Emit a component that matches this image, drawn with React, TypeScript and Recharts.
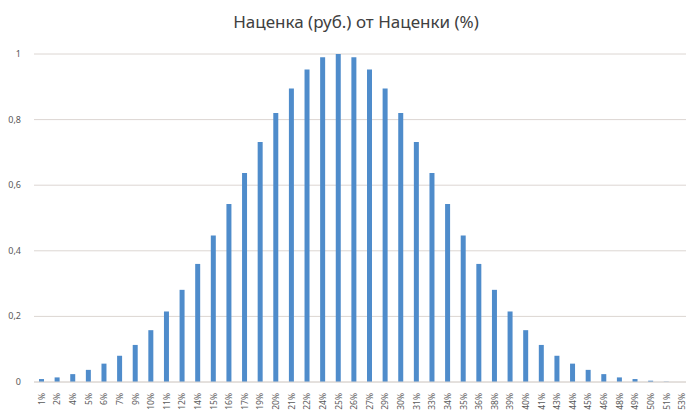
import { BarChart, Bar, XAxis, YAxis, CartesianGrid } from "recharts";

const markupLabels = [
  "1%", "2%", "4%", "5%", "6%", "7%", "9%", "10%", "11%", "12%", "14%",
  "15%", "16%", "17%", "19%", "20%", "21%", "22%", "24%", "25%", "26%",
  "27%", "29%", "30%", "31%", "33%", "34%", "35%", "36%", "38%", "39%",
  "40%", "41%", "43%", "44%", "45%", "46%", "48%", "49%", "50%", "51%", "53%",
];

const markupRub = [
  0.009, 0.014, 0.024, 0.037, 0.056, 0.08, 0.113, 0.158, 0.215, 0.281, 0.36,
  0.447, 0.543, 0.637, 0.732, 0.82, 0.895, 0.953, 0.99, 1.0, 0.99,
  0.953, 0.895, 0.82, 0.732, 0.637, 0.543, 0.447, 0.36, 0.281, 0.215,
  0.158, 0.113, 0.08, 0.056, 0.037, 0.024, 0.014, 0.009, 0.004, 0.001, 0,
];

const yTicks = [0, 0.2, 0.4, 0.6, 0.8, 1];

const data = markupLabels.map((label, i) => ({ label, value: markupRub[i] }));

const FONT = "'Noto Sans', 'Open Sans', sans-serif";
const GRID = "#DCD6D2";

function XTick(props: any) {
  const { x, y, payload } = props;
  return (
    <text
      x={0}
      y={0}
      transform={`translate(${x + 3},${y + 3}) rotate(-90)`}
      textAnchor="end"
      fontSize={8.5}
      fontFamily={FONT}
      fill="#595959"
    >
      {payload.value}
    </text>
  );
}

function YTick(props: any) {
  const { y, payload } = props;
  return (
    <text
      x={21}
      y={y + 3}
      textAnchor="end"
      fontSize={9}
      fontFamily={FONT}
      fill="#595959"
    >
      {String(payload.value).replace(".", ",")}
    </text>
  );
}

export default function App() {
  return (
    <div
      style={{
        position: "absolute",
        left: 0,
        top: 0,
        width: 686,
        height: 412,
        overflow: "hidden",
        background: "#fff",
      }}
    >
      <div
        style={{
          position: "absolute",
          top: 10,
          left: 0,
          width: 686,
          textAlign: "center",
          paddingLeft: 26,
          boxSizing: "border-box",
          fontFamily: FONT,
          fontSize: 17,
          color: "#404040",
        }}
      >
        Наценка (руб.) от Наценки (%)
      </div>
      <BarChart
        width={702}
        height={412}
        data={data}
        margin={{ top: 54, right: 12, left: 0, bottom: 0 }}
      >
        <CartesianGrid vertical={false} stroke={GRID} strokeWidth={1} />
        <XAxis
          dataKey="label"
          interval={0}
          height={30}
          tickLine={false}
          axisLine={{ stroke: GRID }}
          tick={<XTick />}
        />
        <YAxis
          width={34}
          domain={[0, 1]}
          ticks={yTicks}
          axisLine={false}
          tickLine={false}
          tick={<YTick />}
        />
        <Bar
          dataKey="value"
          fill="#4F8CCB"
          barSize={5}
          isAnimationActive={false}
        />
      </BarChart>
    </div>
  );
}
